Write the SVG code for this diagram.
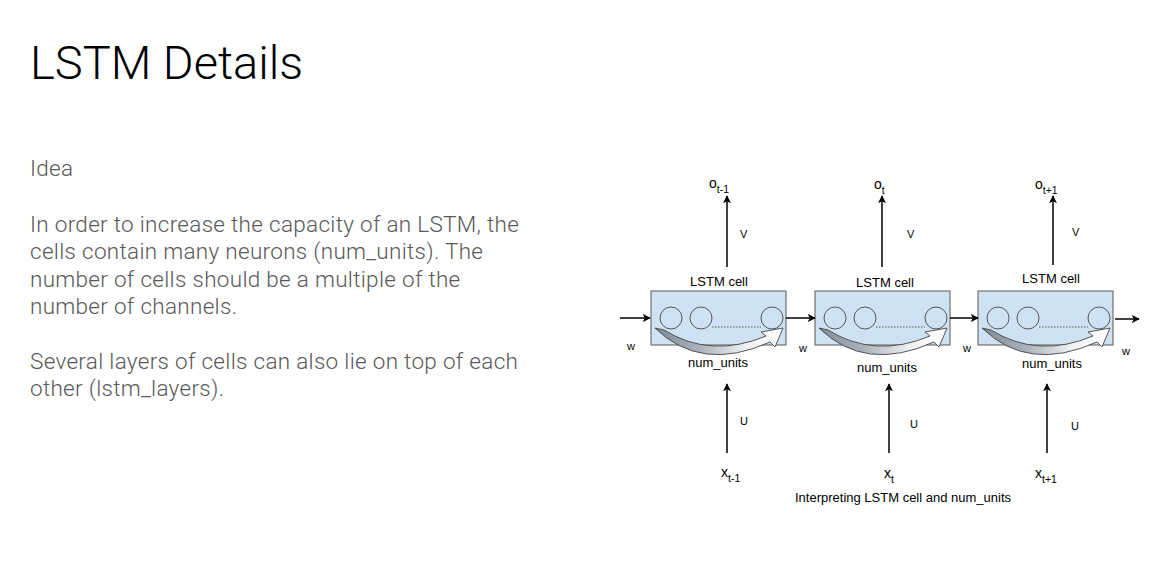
<svg xmlns="http://www.w3.org/2000/svg" width="1155" height="575" viewBox="0 0 1155 575">
<style>
.title{font-family:Roboto,"Liberation Sans",sans-serif;font-weight:300;font-size:47px;fill:#000}
.body{font-family:Roboto,"Liberation Sans",sans-serif;font-weight:300;font-size:22.5px;letter-spacing:0.3px;fill:#595959}
.lbl{font-family:"Liberation Sans",Arial,sans-serif;font-size:13px;fill:#000}
.sm{font-family:"Liberation Sans",Arial,sans-serif;font-size:11px;fill:#000}
.var{font-family:"Liberation Sans",Arial,sans-serif;font-size:14px;fill:#000}
.sub{font-family:"Liberation Sans",Arial,sans-serif;font-size:10.5px;fill:#000}
.box{fill:#cfe2f3;stroke:#595959;stroke-width:1}
.unit{fill:none;stroke:#333;stroke-width:0.8}
.dots{stroke:#555;stroke-width:1;stroke-dasharray:1.5 1.5}
.arr{stroke:#000;stroke-width:1.5;fill:none;marker-end:url(#ah)}
.curve{fill:url(#cg);stroke:#444;stroke-width:0.9}
</style>
<defs>
<marker id="ah" viewBox="0 0 10 10" refX="9" refY="5" markerWidth="8" markerHeight="8" markerUnits="userSpaceOnUse" orient="auto">
<path d="M0,0 L10,5 L0,10 L2.5,5 z" fill="#000"/>
</marker>
<linearGradient id="cg" x1="0" y1="0" x2="1" y2="0">
<stop offset="0" stop-color="#7f8b97"/>
<stop offset="0.35" stop-color="#aab3bc"/>
<stop offset="0.7" stop-color="#eef0f2"/>
<stop offset="1" stop-color="#ffffff"/>
</linearGradient>
<g id="cellshape">
<rect class="box" x="0" y="0" width="135" height="54"/>
<circle class="unit" cx="20" cy="27" r="11"/>
<circle class="unit" cx="50" cy="27" r="11"/>
<circle class="unit" cx="121" cy="27" r="11"/>
<line class="dots" x1="61" y1="36" x2="110" y2="36"/>
<path class="curve" d="M4,37 L13,39 Q60,68 115,45 L110,41 L132,37 L124,56 L119,51 Q50,82 4,37 z"/>
</g>
</defs>

<g id="title">
<text class="title" x="30" y="79">LSTM Details</text>
</g>
<g id="description">
<text class="body" x="30" y="176">Idea</text>
<text class="body" x="30" y="232">In order to increase the capacity of an LSTM, the</text>
<text class="body" x="30" y="259">cells contain many neurons (num_units). The</text>
<text class="body" x="30" y="286.5">number of cells should be a multiple of the</text>
<text class="body" x="30" y="313.5">number of channels.</text>
<text class="body" x="30" y="369">Several layers of cells can also lie on top of each</text>
<text class="body" x="30" y="396">other (lstm_layers).</text>
</g>

<g id="cell1">
<use href="#cellshape" x="651" y="291"/>
<text class="lbl" x="719" y="286" text-anchor="middle">LSTM cell</text>
<text class="lbl" x="718" y="367" text-anchor="middle">num_units</text>
</g>
<g id="cell2">
<use href="#cellshape" x="815" y="291"/>
<text class="lbl" x="885" y="287" text-anchor="middle">LSTM cell</text>
<text class="lbl" x="887" y="372" text-anchor="middle">num_units</text>
</g>
<g id="cell3">
<use href="#cellshape" x="978" y="291"/>
<text class="lbl" x="1051" y="283" text-anchor="middle">LSTM cell</text>
<text class="lbl" x="1052" y="368" text-anchor="middle">num_units</text>
</g>

<g id="outputs">
<text class="var" x="709" y="188">o<tspan class="sub" dy="5">t-1</tspan></text>
<text class="var" x="874" y="189">o<tspan class="sub" dy="5">t</tspan></text>
<text class="var" x="1035" y="189">o<tspan class="sub" dy="5">t+1</tspan></text>
</g>
<g id="inputs">
<text class="var" x="721" y="477">x<tspan class="sub" dy="5">t-1</tspan></text>
<text class="var" x="884" y="478">x<tspan class="sub" dy="5">t</tspan></text>
<text class="var" x="1035" y="478">x<tspan class="sub" dy="5">t+1</tspan></text>
</g>

<g id="connectors">
<line class="arr" x1="727" y1="267" x2="727" y2="196"/>
<line class="arr" x1="882" y1="267" x2="882" y2="196"/>
<line class="arr" x1="1053" y1="265" x2="1053" y2="196"/>
<line class="arr" x1="727" y1="453" x2="727" y2="384"/>
<line class="arr" x1="889" y1="453" x2="889" y2="384"/>
<line class="arr" x1="1047" y1="453" x2="1047" y2="384"/>
<line class="arr" x1="620" y1="318" x2="650" y2="318"/>
<line class="arr" x1="786" y1="318" x2="815" y2="318"/>
<line class="arr" x1="950" y1="318" x2="978" y2="318"/>
<line class="arr" x1="1115" y1="319" x2="1139" y2="319"/>
<text class="sm" x="740" y="238">V</text>
<text class="sm" x="907" y="238">V</text>
<text class="sm" x="1072" y="236">V</text>
<text class="sm" x="740" y="425">U</text>
<text class="sm" x="910" y="428">U</text>
<text class="sm" x="1071" y="430">U</text>
<text class="sm" x="631" y="350" text-anchor="middle">w</text>
<text class="sm" x="803" y="352" text-anchor="middle">w</text>
<text class="sm" x="967" y="352" text-anchor="middle">w</text>
<text class="sm" x="1126" y="355" text-anchor="middle">w</text>
</g>

<g id="caption">
<text class="lbl" x="903" y="502" text-anchor="middle">Interpreting LSTM cell and num_units</text>
</g>
</svg>
